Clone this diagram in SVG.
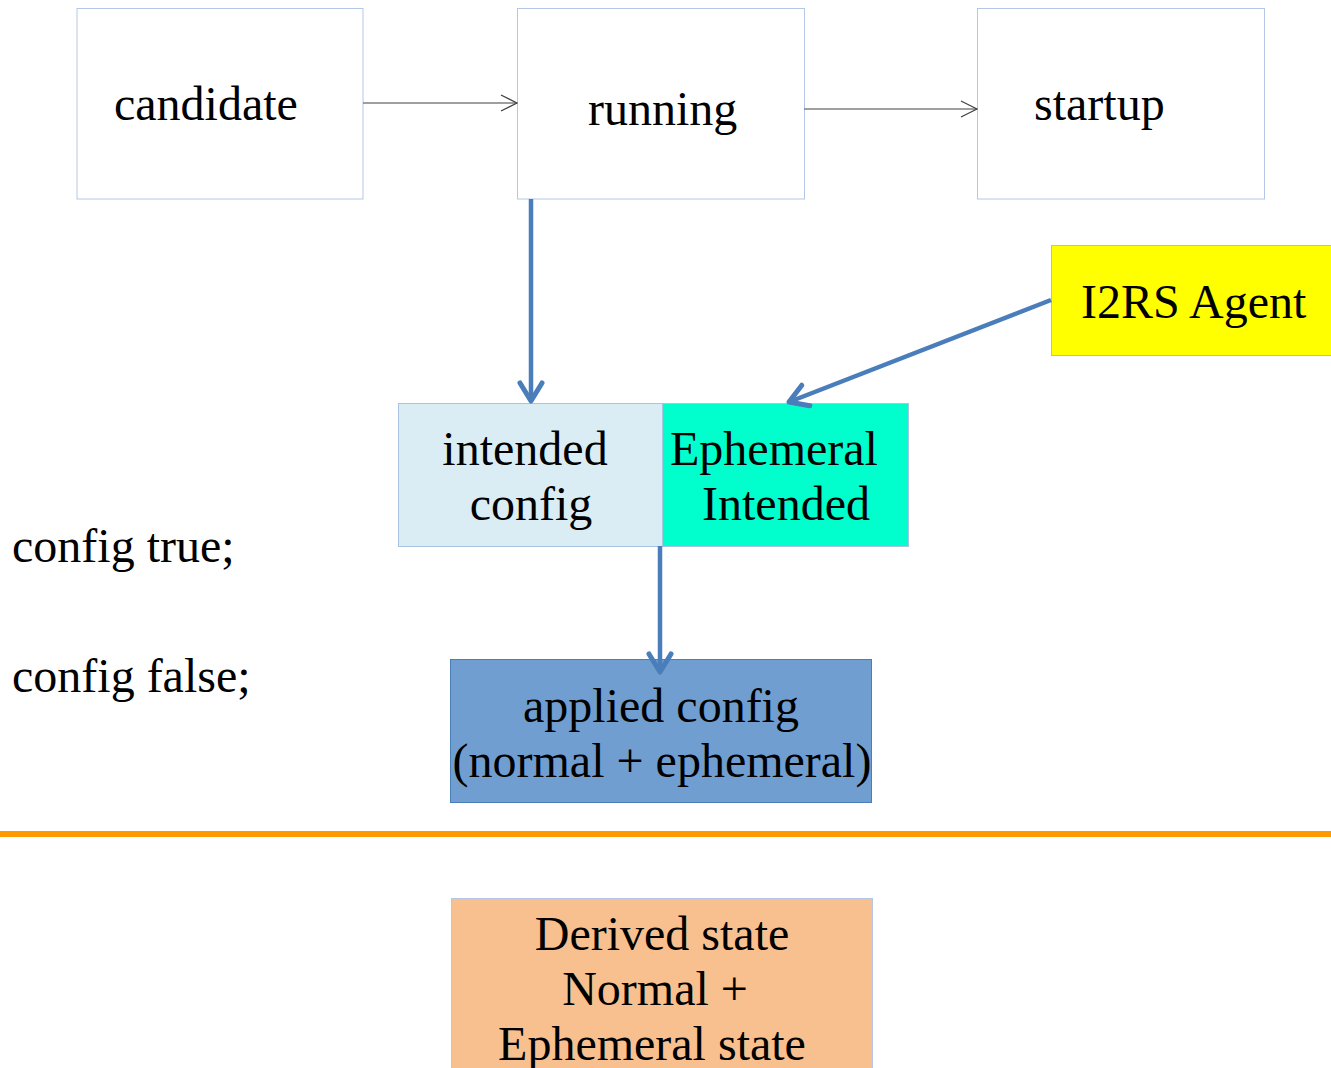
<svg xmlns="http://www.w3.org/2000/svg" width="1331" height="1068" viewBox="0 0 1331 1068">
<style>
text{font-family:"Liberation Serif","Times New Roman",serif;font-size:48px;fill:#000}
.box{stroke:#b4c7e7;stroke-width:1}
.thin{stroke:#7f7f7f;stroke-width:1.3;fill:none}
.blue{stroke:#4a7ebb;stroke-width:4.5;fill:none}
</style>
<defs>
<marker id="open" markerWidth="20" markerHeight="20" refX="18" refY="10" orient="auto" markerUnits="userSpaceOnUse">
<path d="M2,2 L18,10 L2,18" fill="none" stroke="#404040" stroke-width="1.2"/>
</marker>
<marker id="chev" markerWidth="30" markerHeight="30" refX="26" refY="15" orient="auto" markerUnits="userSpaceOnUse">
<path d="M8,4 L26,15 L8,26" fill="none" stroke="#4a7ebb" stroke-width="5" stroke-linecap="round" stroke-linejoin="round"/>
</marker>
</defs>
<rect width="1331" height="1068" fill="#fff"/>
<g id="candidate"><rect class="box" x="77" y="8.5" width="286" height="190.5" fill="#fff"/><text x="114" y="120">candidate</text></g>
<g id="running"><rect class="box" x="517.5" y="8.5" width="287" height="190.5" fill="#fff"/><text x="588" y="125">running</text></g>
<g id="startup"><rect class="box" x="977.5" y="8.5" width="287" height="190.5" fill="#fff"/><text x="1034" y="120">startup</text></g>
<g id="i2rs"><rect x="1051.5" y="245.5" width="281" height="110" fill="#ffff00" stroke="#d4d400"/><text x="1081" y="318">I2RS Agent</text></g>
<g id="intended"><rect x="398.5" y="403.5" width="264" height="143" fill="#dbedf4" stroke="#a9c4e2"/><text x="525" y="465" text-anchor="middle">intended</text><text x="531" y="520" text-anchor="middle">config</text></g>
<g id="ephemeral"><rect x="662.5" y="403.5" width="246" height="143" fill="#00ffcc" stroke="#a9c4e2"/><text x="670" y="465">Ephemeral</text><text x="702" y="520">Intended</text></g>
<g id="applied"><rect x="450.5" y="659.5" width="421" height="143" fill="#709ed0" stroke="#4a7ebb"/><text x="661" y="722" text-anchor="middle">applied config</text><text x="662" y="777" text-anchor="middle">(normal + ephemeral)</text></g>
<g id="derived"><rect x="451.5" y="898.5" width="421" height="180" fill="#f8bf8f" stroke="#b4c7e7"/><text x="662" y="950" text-anchor="middle">Derived state</text><text x="655" y="1005" text-anchor="middle">Normal +</text><text x="652" y="1060" text-anchor="middle">Ephemeral state</text></g>
<g id="labels"><text x="12" y="562">config true;</text><text x="12" y="692">config false;</text></g>
<rect id="divider" x="0" y="831" width="1331" height="6" fill="#ff9900"/>
<g id="connectors">
<line class="thin" x1="363" y1="103" x2="517" y2="103" marker-end="url(#open)"/>
<line class="thin" x1="804" y1="109" x2="977" y2="109" marker-end="url(#open)"/>
<line class="blue" x1="531" y1="199" x2="531" y2="401" marker-end="url(#chev)"/>
<line class="blue" x1="1051" y1="300" x2="789" y2="402" marker-end="url(#chev)"/>
<line class="blue" x1="660" y1="546" x2="660" y2="672" marker-end="url(#chev)"/>
</g>
</svg>
